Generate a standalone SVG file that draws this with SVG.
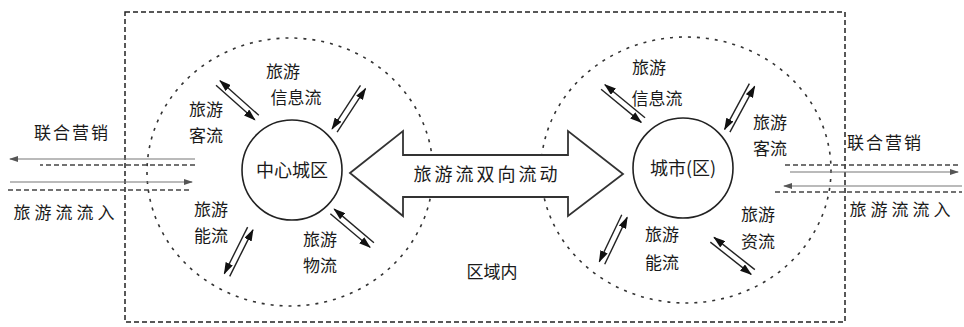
<svg xmlns="http://www.w3.org/2000/svg" xmlns:xlink="http://www.w3.org/1999/xlink" width="964" height="327" viewBox="0 0 964 327">
  <style>
    .lbl { font-family: "Noto Sans CJK SC", "Noto Sans", sans-serif; font-size: 17px; fill: #1a1a1a; text-anchor: middle; }
    .big { font-size: 18px; }
    .frame { fill: none; stroke: #222; stroke-width: 1.5; stroke-dasharray: 5 3; }
    .zone { fill: none; stroke: #333; stroke-width: 1.6; stroke-dasharray: 3 6; }
    .core { fill: #fff; stroke: #222; stroke-width: 1.6; }
    .flow { stroke: #222; stroke-width: 1.4; fill: none; }
    .dash { stroke: #444; stroke-width: 1.4; stroke-dasharray: 5 3; fill: none; }
    .thin { stroke: #777; stroke-width: 1.2; fill: none; }
  </style>
  <defs>
    <marker id="head" viewBox="0 0 12 8" refX="11" refY="4" markerWidth="12" markerHeight="8" markerUnits="userSpaceOnUse" orient="auto-start-reverse">
      <path d="M0,0 L12,4 L0,8 z" fill="#111"/>
    </marker>
    <marker id="headSmall" viewBox="0 0 9 6" refX="8" refY="3" markerWidth="9" markerHeight="6" markerUnits="userSpaceOnUse" orient="auto-start-reverse">
      <path d="M0,0 L9,3 L0,6 z" fill="#555"/>
    </marker>
    <!-- two-way exchange: one line pointing out, one pointing in -->
    <g id="pair">
      <line class="flow" x1="0" y1="-3" x2="52" y2="-3" marker-start="url(#head)"/>
      <line class="flow" x1="0" y1="3" x2="52" y2="3" marker-end="url(#head)"/>
    </g>
  </defs>

  <rect width="964" height="327" fill="#fff"/>

  <!-- regional boundary -->
  <g id="region">
    <rect class="frame" x="125" y="12" width="720" height="310"/>
    <text class="lbl" x="492" y="278">区域内</text>
  </g>

  <!-- left node -->
  <g id="node-left">
    <ellipse class="zone" cx="290" cy="172" rx="143" ry="134"/>
    <circle class="core" cx="292" cy="170" r="50"/>
    <text class="lbl big" x="292" y="177">中心城区</text>
    <text class="lbl" x="283" y="78">旅游</text>
    <text class="lbl" x="296" y="104">信息流</text>
    <text class="lbl" x="206" y="116">旅游</text>
    <text class="lbl" x="206" y="142">客流</text>
    <text class="lbl" x="211" y="216">旅游</text>
    <text class="lbl" x="211" y="242">能流</text>
    <text class="lbl" x="320" y="246">旅游</text>
    <text class="lbl" x="320" y="272">物流</text>
  </g>

  <!-- right node -->
  <g id="node-right">
    <ellipse class="zone" cx="686" cy="170" rx="145" ry="133"/>
    <circle class="core" cx="683" cy="168" r="50"/>
    <text class="lbl big" x="683" y="175">城市(区)</text>
    <text class="lbl" x="649" y="74">旅游</text>
    <text class="lbl" x="657" y="105">信息流</text>
    <text class="lbl" x="770" y="129">旅游</text>
    <text class="lbl" x="770" y="155">客流</text>
    <text class="lbl" x="662" y="241">旅游</text>
    <text class="lbl" x="662" y="269">能流</text>
    <text class="lbl" x="758" y="221">旅游</text>
    <text class="lbl" x="758" y="248">资流</text>
  </g>

  <!-- outside labels -->
  <g id="outside-left">
    <text class="lbl" x="72" y="139" letter-spacing="2">联合营销</text>
    <text class="lbl" x="66" y="219" letter-spacing="4">旅游流流入</text>
  </g>
  <g id="outside-right">
    <text class="lbl" x="885" y="149" letter-spacing="2">联合营销</text>
    <text class="lbl" x="902" y="216" letter-spacing="4">旅游流流入</text>
  </g>

  <g id="connectors">
    <!-- two-way flow between the nodes -->
    <polygon points="350,173 403,131 403,155 568,155 568,131 623,174 568,216 568,197 403,197 403,216" fill="#fff" stroke="#333" stroke-width="1.8"/>
    <text class="lbl big" x="487" y="181" letter-spacing="3">旅游流双向流动</text>

    <!-- exchanges around the left node -->
    <use xlink:href="#pair" transform="translate(218,83) rotate(41.7)"/>
    <use xlink:href="#pair" transform="translate(363,87) rotate(123.1)"/>
    <use xlink:href="#pair" transform="translate(227,275) rotate(-63.4)"/>
    <use xlink:href="#pair" transform="translate(372,245) rotate(-139.8)"/>

    <!-- exchanges around the right node -->
    <use xlink:href="#pair" transform="translate(603,87) rotate(39.5)"/>
    <use xlink:href="#pair" transform="translate(752,85) rotate(118.4)"/>
    <use xlink:href="#pair" transform="translate(602,263) rotate(-64.4)"/>
    <use xlink:href="#pair" transform="translate(753,272) rotate(-141.7)"/>

    <!-- links with the outside, left -->
    <line class="thin" x1="195" y1="159" x2="10" y2="159" marker-end="url(#headSmall)"/>
    <line class="dash" x1="195" y1="165" x2="40" y2="165"/>
    <line class="thin" x1="10" y1="182" x2="192" y2="182" marker-end="url(#headSmall)"/>
    <line class="dash" x1="8" y1="190" x2="190" y2="190"/>

    <!-- links with the outside, right -->
    <line class="dash" x1="785" y1="165" x2="960" y2="165"/>
    <line class="thin" x1="790" y1="172" x2="958" y2="172" marker-end="url(#headSmall)"/>
    <line class="thin" x1="962" y1="186" x2="784" y2="186" marker-end="url(#headSmall)"/>
    <line class="dash" x1="775" y1="192" x2="962" y2="192"/>
  </g>
</svg>
